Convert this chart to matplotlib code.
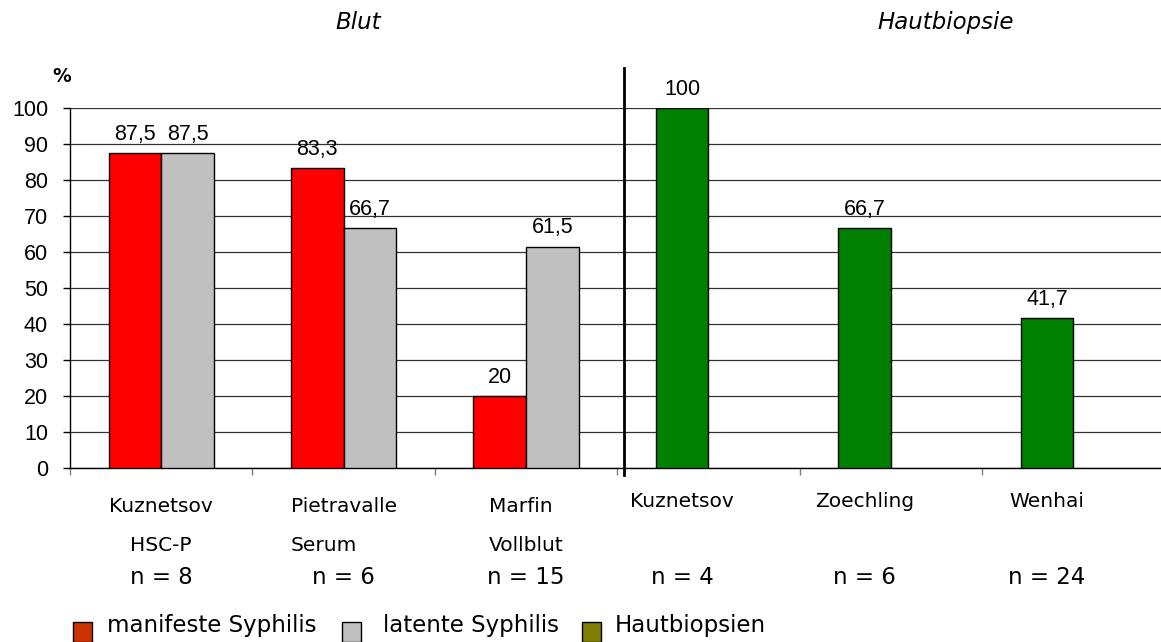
import matplotlib
matplotlib.use("Agg")
import matplotlib.pyplot as plt
from matplotlib.patches import Rectangle
import numpy as np

# data
studies = ["Kuznetsov", "Pietravalle", "Marfin", "Kuznetsov", "Zoechling", "Wenhai"]
material = ["HSC-P", "Serum", "Vollblut", "", "", ""]
n_cases = [8, 6, 15, 4, 6, 24]
manifest = [87.5, 83.3, 20]
latent = [87.5, 66.7, 61.5]
biopsy = [100, 66.7, 41.7]
yticks = list(range(0, 101, 10))
legend_names = ["manifeste Syphilis", "latente Syphilis", "Hautbiopsien"]

RED = "#FF0000"
GRAY = "#C0C0C0"
GREEN = "#008000"
legend_colors = ["#CC3300", "#C0C0C0", "#808000"]

W, H = 1161, 642
fig = plt.figure(figsize=(W / 100, H / 100), dpi=100)
ax = fig.add_axes([70 / W, (H - 468) / H, 6 * 182.4 / W, 360 / H])

centers = np.arange(len(studies)) + 0.5
bw = 0.288
left_c = centers[:3]
right_c = centers[3:]

b1 = ax.bar(left_c - bw / 2, manifest, bw, color=RED, edgecolor="black", lw=1, zorder=3)
b2 = ax.bar(left_c + bw / 2, latent, bw, color=GRAY, edgecolor="black", lw=1, zorder=3)
b3 = ax.bar(right_c - bw / 2, biopsy, bw, color=GREEN, edgecolor="black", lw=1, zorder=3)

def fmt(v):
    return ("%g" % v).replace(".", ",")

num_font = dict(family="Liberation Sans", fontsize=15.5)
for bars, vals in ((b1, manifest), (b2, latent), (b3, biopsy)):
    for r, v in zip(bars, vals):
        ax.annotate(fmt(v), (r.get_x() + r.get_width() / 2, v), xytext=(0, 9.5),
                    textcoords="offset points", ha="center", va="baseline", **num_font)

ax.set_xlim(0, 6)
ax.set_ylim(0, 100)
ax.set_yticks(yticks)
ax.set_yticklabels([str(t) for t in yticks], **num_font)
ax.tick_params(axis="y", length=5, width=1, color="black", pad=10.8)
ax.set_xticks([])
ax.set_xticks(np.arange(0, 7), minor=True)
ax.tick_params(axis="x", which="minor", length=5, width=1, color="#808080")
ax.yaxis.grid(True, color="#333333", lw=0.9, zorder=0)
ax.set_axisbelow(True)
for s in ("top", "right"):
    ax.spines[s].set_visible(False)
ax.spines["left"].set_linewidth(1)
ax.spines["bottom"].set_linewidth(1)

# divider between the two panels
ax.plot([3.04, 3.04], [-1.9, 111.1], color="black", lw=2, clip_on=False, zorder=4)

# category labels
tr = ax.get_xaxis_transform()
lab_font = dict(family="DejaVu Sans", fontsize=14.5)
label_x = list(left_c) + list(right_c - bw / 2)
left_aligned = [False, True, True, False, False, False]
renderer = fig.canvas.get_renderer()
for i, (x, name, sub) in enumerate(zip(label_x, studies, material)):
    if sub:
        t1 = ax.text(x, -(497 - 468) / 360, name, transform=tr, ha="center", va="top", **lab_font)
        t2 = ax.text(x, -(536 - 468) / 360, sub, transform=tr, ha="center", va="top", **lab_font)
        if left_aligned[i]:
            e1 = t1.get_window_extent(renderer)
            e2 = t2.get_window_extent(renderer)
            left = min(e1.x0, e2.x0)
            xl = ax.transData.inverted().transform((left, 0))[0]
            for t in (t1, t2):
                t.set_ha("left")
                t.set_x(xl)
    else:
        ax.text(x, -(492 - 468) / 360, name, transform=tr, ha="center", va="top", **lab_font)
    ax.text(x, -(566 - 468) / 360, "n = %d" % n_cases[i], transform=tr,
            ha="center", va="top", family="DejaVu Sans", fontsize=16.5)

# y unit
fig.text(62 / W, 1 - 77 / H, "%", ha="center", va="center", family="DejaVu Sans",
         fontsize=13.5, fontweight="bold")

# panel titles
fig.text(358 / W, 1 - 11 / H, "Blut", ha="center", va="top", family="DejaVu Sans",
         fontsize=16.5, style="italic")
fig.text(946 / W, 1 - 11 / H, "Hautbiopsie", ha="center", va="top", family="DejaVu Sans",
         fontsize=16.5, style="italic")

# legend
sq_x = [73, 342, 582]
txt_x = [107, 383, 615]
for sx, tx, name, c in zip(sq_x, txt_x, legend_names, legend_colors):
    fig.add_artist(Rectangle((sx / W, 1 - 642 / H), 19 / W, 20 / H, transform=fig.transFigure,
                             facecolor=c, edgecolor="black", lw=1))
    fig.text(tx / W, 1 - 632 / H, name, ha="left", va="baseline", family="DejaVu Sans",
             fontsize=16.5)

fig.savefig("out.png", dpi=100)
